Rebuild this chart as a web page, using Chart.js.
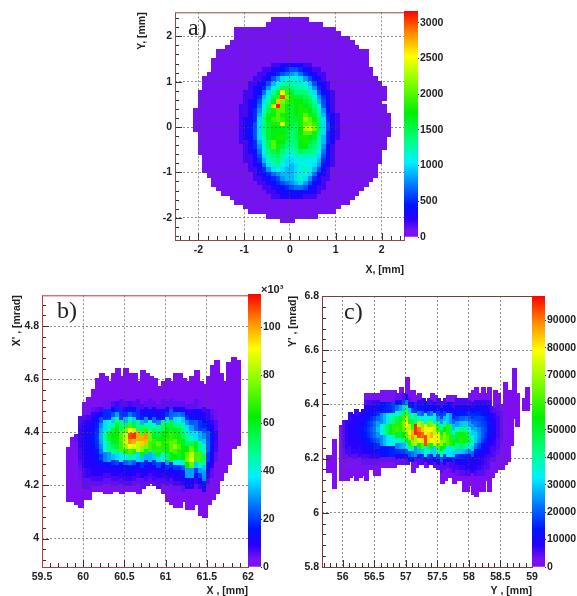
<!DOCTYPE html>
<html>
<head>
<meta charset="utf-8">
<script src="https://cdn.jsdelivr.net/npm/chart.js@4/dist/chart.umd.min.js"></script>
<style>
  html, body { margin: 0; padding: 0; background: #fff; }
  #page { position: relative; width: 577px; height: 596px; overflow: hidden; filter: blur(0.6px); background: #fff; }
  canvas { position: absolute; }
  .tag { position: absolute; font: 24px "Liberation Serif", serif; color: #222; }
  .exp { position: absolute; font: bold 11px "Liberation Sans", sans-serif; color: #222; }
</style>
</head>
<body>
<div id="page">
  <canvas id="mapA" width="288" height="273" style="left:136px;top:3px"></canvas>
  <canvas id="barA" width="60" height="242" style="left:404px;top:3px"></canvas>
  <canvas id="mapB" width="257" height="311" style="left:11px;top:286px"></canvas>
  <canvas id="barB" width="50" height="289" style="left:248px;top:286px"></canvas>
  <canvas id="mapC" width="265" height="311" style="left:287px;top:286px"></canvas>
  <canvas id="barC" width="45" height="287" style="left:532px;top:288px"></canvas>
  <div class="tag" style="left:188px;top:14px">a)</div>
  <div class="tag" style="left:57px;top:297px">b)</div>
  <div class="tag" style="left:344px;top:298px">c)</div>
  <div class="exp" style="left:261px;top:283px">×10³</div>
</div>
<script>
// Panel a: beam spot, cell size 0.1 mm, counts in hundreds
var aRowLeft = [-0.4,-0.5,-1.2,-1.2,-1.2,-1.3,-1.4,-1.6,-1.6,-1.7,-1.7,-1.7,-1.8,-1.9,-1.9,-1.9,-2.0,-2.0,-2.0,-2.0,-2.1,-2.1,-2.1,-2.1,-2.1,-2.0,-2.0,-2.0,-2.0,-2.0,-1.9,-1.9,-1.9,-1.9,-1.8,-1.7,-1.7,-1.6,-1.5,-1.3,-1.2,-1.0,-0.9,-0.5,-0.2];
var aRowRight = [0.3,0.6,0.9,1.0,1.2,1.3,1.4,1.6,1.6,1.6,1.6,1.7,1.7,1.8,1.9,2.0,2.0,2.0,1.9,2.0,2.0,2.1,2.1,2.1,2.1,2.1,2.0,2.0,2.0,1.9,1.9,1.9,1.8,1.8,1.8,1.7,1.6,1.5,1.4,1.3,1.2,1.0,0.9,0.5,0.0];
var aCore = [
  [1,1,1,1,1,1,1,1,2,2,3,3,3,3,3,2,2,1,1,1,1,1,1,1],
  [1,1,1,1,1,1,2,2,3,4,4,5,6,6,5,4,3,2,2,1,1,1,1,1],
  [1,1,1,1,1,2,2,3,4,5,6,7,8,9,7,5,4,3,2,2,1,1,1,1],
  [1,1,1,1,2,2,3,4,6,8,10,11,12,11,10,8,6,4,3,2,1,1,1,1],
  [1,1,1,2,2,3,4,6,9,11,12,13,12,12,12,11,9,6,4,3,2,1,1,1],
  [1,1,1,2,3,4,5,8,11,13,15,15,14,13,13,12,10,8,5,3,2,1,1,1],
  [1,1,2,2,3,4,7,10,13,16,25,19,16,14,14,14,12,10,6,4,3,2,1,1],
  [1,1,2,2,3,5,9,12,15,19,30,21,18,16,16,15,14,11,8,5,3,2,1,1],
  [1,1,2,3,4,6,10,13,17,27,21,19,18,17,17,16,15,13,9,6,3,2,1,1],
  [1,2,2,3,4,7,11,14,24,31,20,17,16,17,18,17,16,14,11,6,4,2,1,1],
  [1,2,2,3,5,8,12,15,18,20,20,18,16,17,18,18,17,15,12,8,4,2,1,1],
  [1,2,2,3,5,9,13,18,17,20,18,17,16,17,18,20,18,16,13,9,5,3,2,1],
  [1,2,3,3,5,10,14,17,19,20,19,17,16,16,18,22,20,18,14,10,5,3,2,1],
  [1,2,3,4,6,10,14,16,18,18,24,18,16,15,18,20,21,19,15,10,6,3,2,1],
  [1,2,3,4,6,10,14,16,17,17,17,16,15,15,17,23,24,21,15,10,6,3,2,1],
  [1,2,3,4,6,10,14,16,17,17,17,16,14,15,17,20,20,18,14,10,5,3,2,1],
  [1,2,3,4,6,10,13,16,17,18,18,16,14,15,18,18,17,16,13,9,5,3,2,1],
  [1,2,2,3,5,9,12,15,20,17,17,15,14,14,17,18,16,15,12,9,5,3,1,1],
  [1,1,2,3,5,8,12,15,20,18,16,14,13,14,17,17,15,14,12,8,4,2,1,1],
  [1,1,2,3,4,7,11,14,15,16,14,12,12,13,15,14,14,13,11,7,4,2,1,1],
  [1,1,2,2,4,6,10,13,14,15,13,11,11,12,12,12,12,12,10,6,4,2,1,1],
  [1,1,2,2,3,5,9,12,13,14,12,10,10,11,11,11,11,11,9,5,3,2,1,1],
  [1,1,1,2,3,4,7,10,12,13,11,10,9,10,12,11,11,10,8,4,3,2,1,1],
  [1,1,1,2,2,3,5,8,10,11,10,9,9,10,11,12,11,9,6,3,2,1,1,1],
  [1,1,1,1,2,3,4,5,7,8,9,9,9,10,11,11,10,7,4,3,2,1,1,1],
  [1,1,1,1,2,2,3,4,5,6,8,9,9,10,12,10,8,5,3,2,2,1,1,1],
  [1,1,1,1,1,2,2,3,4,5,6,7,8,9,10,8,6,4,3,2,1,1,1,1],
  [1,1,1,1,1,1,2,2,3,3,4,5,6,7,7,6,4,3,2,2,1,1,1,1],
  [1,1,1,1,1,1,1,2,2,3,3,4,4,4,4,4,3,3,2,1,1,1,1,1],
  [1,1,1,1,1,1,1,1,2,2,3,3,3,3,3,2,2,2,1,1,1,1,1,1]
];
var aXTicks = [-2,-1,0,1,2];
var aYTicks = [-2,-1,0,1,2];
var aBarTicks = [0,500,1000,1500,2000,2500,3000];

// Panel b: X-X' phase space, cells 0.05 mm x 0.02 mrad, counts in thousands
var bColTop = [4.35,4.38,4.38,4.46,4.52,4.53,4.55,4.59,4.61,4.61,4.59,4.61,4.64,4.61,4.64,4.61,4.62,4.59,4.63,4.61,4.61,4.60,4.58,4.58,4.59,4.58,4.61,4.61,4.59,4.59,4.62,4.62,4.59,4.59,4.61,4.65,4.66,4.62,4.59,4.65,4.67,4.67];
var bColBottom = [4.14,4.14,4.13,4.12,4.15,4.15,4.18,4.18,4.18,4.17,4.17,4.18,4.18,4.17,4.18,4.18,4.18,4.17,4.19,4.20,4.21,4.20,4.19,4.17,4.14,4.13,4.12,4.12,4.14,4.11,4.11,4.13,4.09,4.08,4.13,4.15,4.17,4.22,4.25,4.28,4.34,4.35];
var bCore = [
  [1,1,1,1,2,2,3,4,4,6,8,6,6,7,6,6,6,5,5,5,5,5,5,5,5,5,5,5,5,5,4,3,3,2,2,1],
  [1,2,3,4,5,6,7,10,10,14,18,12,11,15,12,11,10,10,9,9,9,9,10,11,12,12,11,10,9,8,8,7,6,5,3,1],
  [2,4,6,7,8,9,13,18,18,22,30,19,19,26,21,19,17,15,15,15,14,15,19,24,25,26,24,18,15,13,11,10,8,6,4,2],
  [3,6,8,9,11,15,22,28,30,34,48,32,32,46,34,32,32,28,26,25,27,30,36,38,36,38,34,28,22,17,15,13,11,8,5,2],
  [4,7,10,11,13,17,28,36,42,46,60,50,54,70,56,50,52,48,44,44,48,52,58,56,52,50,44,36,30,24,19,17,15,11,6,3],
  [4,8,11,12,14,18,31,42,52,58,64,62,76,92,84,76,72,68,58,52,56,60,62,62,60,56,50,44,36,31,27,22,19,14,8,3],
  [5,8,11,13,15,19,32,46,58,62,62,72,84,108,110,100,100,102,74,60,58,62,64,68,66,60,54,48,42,36,32,28,23,15,8,3],
  [5,8,11,13,15,19,31,44,54,60,60,76,86,102,98,100,96,98,76,68,74,70,68,70,72,66,60,52,54,46,40,34,24,15,8,3],
  [4,8,11,12,14,18,28,40,50,54,56,70,80,90,88,84,78,76,70,66,68,66,64,72,80,70,62,62,74,60,48,40,24,14,7,3],
  [4,7,10,11,13,16,25,34,42,46,50,58,66,70,66,62,60,56,54,54,58,58,60,66,70,66,62,72,84,72,58,44,23,12,6,3],
  [3,7,9,10,12,14,20,27,30,33,36,38,40,48,42,36,34,32,32,34,36,42,52,60,62,58,62,76,88,70,70,52,20,11,5,2],
  [3,6,9,10,11,12,15,19,19,19,21,24,24,27,23,19,19,18,18,19,21,23,30,36,40,38,44,62,74,56,62,48,16,9,3,2],
  [3,5,8,9,10,10,11,13,13,13,13,14,14,16,13,13,13,13,12,12,13,14,18,19,19,19,23,44,48,34,44,34,13,7,3,1],
  [3,4,7,8,9,9,9,9,10,9,9,11,11,11,10,10,10,10,9,9,10,11,12,13,13,13,15,30,30,20,30,30,11,5,2,1],
  [2,4,6,7,7,7,7,7,7,7,7,8,8,8,7,7,7,7,7,7,8,8,8,9,9,9,11,18,16,13,20,28,8,4,2,1],
  [2,3,5,5,5,5,5,5,5,5,5,6,6,6,5,5,5,5,5,5,6,6,6,6,7,7,8,12,10,8,13,16,6,3,1,1],
  [1,2,3,3,3,3,3,3,3,3,3,3,3,3,3,3,3,2,2,3,3,3,3,4,4,4,5,7,6,5,8,9,4,2,1,1]
];
var bXTicks = [59.5,60,60.5,61,61.5,62];
var bYTicks = [4,4.2,4.4,4.6,4.8];
var bBarTicks = [0,20,40,60,80,100];

// Panel c: Y-Y' phase space, cells 0.05 mm x 0.02 mrad, counts in thousands
var cColTop = [6.21,6.21,6.27,null,6.32,6.34,6.35,6.36,6.36,6.39,6.37,6.37,6.44,6.44,6.44,6.44,6.43,6.44,6.45,6.44,6.44,6.45,6.44,6.45,6.44,6.49,6.44,6.44,6.42,6.43,6.42,6.41,6.41,6.43,6.43,6.42,6.41,6.42,6.43,6.42,6.43,6.43,6.43,6.43,6.43,6.44,6.44,6.45,6.44,6.45,6.44,6.45,6.39,6.44,6.44,6.40,6.47,6.46,6.45,6.53,6.44,null,6.43,6.47];
var cColBottom = [6.15,6.15,6.09,null,6.12,6.12,6.12,6.13,6.14,6.12,6.13,6.14,6.12,6.16,6.16,6.14,6.14,6.17,6.17,6.17,6.17,6.17,6.18,6.18,6.18,6.18,6.19,6.15,6.17,6.18,6.18,6.17,6.18,6.18,6.17,6.16,6.11,6.12,6.13,6.13,6.11,6.12,6.12,6.08,6.08,6.10,6.07,6.06,6.08,6.08,6.12,6.08,6.13,6.15,6.16,6.16,6.18,6.19,6.25,6.35,6.32,null,6.38,6.38];
var cCore = [
  [1,1,1,1,1,1,1,1,3,3,3,3,3,3,3,3,3,3,4,4,5,14,5,3,3,3,3,3,3,3,3,3,3,3,3,3,3,3,3,3,3,3,3,3,3,3,3,3,2,2,1,1,1,1],
  [1,1,1,2,2,2,2,2,5,6,6,7,7,7,8,8,9,10,11,14,18,24,14,10,8,7,7,7,6,6,6,6,6,6,6,6,6,6,6,6,6,6,7,7,7,7,7,6,4,3,3,2,1,1],
  [2,2,3,4,4,4,4,5,8,9,10,11,12,13,14,15,16,18,22,26,30,42,30,18,16,14,14,13,11,11,11,12,13,12,11,11,10,10,10,10,10,10,11,11,11,10,10,9,6,5,4,3,2,1],
  [3,4,5,5,6,7,7,8,10,11,13,14,16,17,19,21,24,28,34,40,46,62,44,36,28,23,20,18,20,23,22,18,17,18,20,17,15,14,14,14,15,16,16,15,15,13,12,11,8,7,5,4,3,1],
  [3,5,6,7,8,8,9,10,12,14,16,18,21,24,28,32,38,42,46,52,60,72,58,46,44,36,32,34,36,38,32,25,25,28,30,25,20,18,20,20,22,20,20,18,18,17,15,13,9,8,6,4,3,2],
  [3,5,7,8,9,9,10,11,14,16,18,22,26,32,38,44,50,56,58,58,66,78,72,60,72,72,66,60,64,66,54,44,38,40,44,36,28,26,28,30,30,26,25,22,20,18,17,14,10,9,6,4,3,2],
  [3,5,7,8,9,10,11,12,15,17,20,23,28,34,40,46,52,58,60,58,62,72,78,86,96,90,84,76,80,78,72,60,50,54,58,46,38,38,42,44,40,34,30,27,24,20,18,14,10,9,6,4,3,2],
  [3,5,7,8,9,10,11,12,14,16,19,22,25,30,36,40,44,48,50,50,54,64,70,88,92,94,92,90,82,86,80,76,62,66,64,56,48,50,56,56,50,42,36,30,25,20,17,13,9,8,6,4,3,2],
  [3,5,7,8,8,9,10,11,13,14,16,18,21,24,28,32,34,36,36,38,42,52,58,68,70,76,82,94,82,78,76,80,68,66,62,58,52,52,58,56,52,46,38,30,24,18,15,11,8,7,5,4,3,2],
  [3,5,7,7,8,8,9,9,11,12,13,15,16,18,20,21,23,24,24,26,28,34,38,42,50,52,62,66,58,52,54,62,54,52,48,44,42,42,46,44,40,34,30,23,18,13,11,9,7,6,5,3,2,1],
  [3,4,6,6,7,7,7,8,8,9,10,11,12,13,13,14,15,15,16,17,17,20,20,22,25,28,30,36,34,30,30,40,40,36,32,32,30,30,30,28,26,23,20,15,12,10,9,8,6,5,4,3,2,1],
  [3,4,4,5,5,5,5,6,6,6,7,7,7,8,8,8,8,9,9,10,10,12,12,13,14,15,16,18,18,16,16,18,20,18,16,16,16,16,16,15,14,12,11,10,9,8,7,6,5,4,3,3,2,1],
  [2,3,3,3,3,3,3,4,4,4,4,4,4,4,4,4,4,4,4,4,4,5,5,5,5,5,6,7,7,7,9,9,9,9,9,9,9,9,10,10,10,10,10,9,8,7,6,5,4,3,3,2,1,1],
  [1,2,2,3,3,3,3,3,3,3,2,2,2,2,2,2,2,2,2,2,2,2,2,3,2,2,2,2,2,3,5,5,5,5,5,6,6,6,7,7,8,8,8,8,7,6,5,5,3,3,2,1,1,1],
  [1,1,1,1,1,1,1,1,1,1,1,1,1,1,1,1,1,1,1,1,1,1,1,1,1,1,1,1,1,1,1,3,3,3,3,4,4,4,5,5,6,6,6,6,5,5,4,3,2,2,1,1,1,1]
];
var cXTicks = [56,56.5,57,57.5,58,58.5,59];
var cYTicks = [5.8,6,6.2,6.4,6.6,6.8];
var cBarTicks = [0,10000,20000,30000,40000,50000,60000,70000,80000,90000];

var palette = [
  [0.00, 130, 10, 245], [0.03, 118, 20, 240], [0.08, 40, 0, 250], [0.14, 0, 20, 255], [0.22, 0, 110, 255],
  [0.33, 0, 240, 255], [0.42, 0, 255, 140], [0.55, 0, 240, 0], [0.70, 150, 255, 0],
  [0.80, 255, 255, 0], [0.90, 255, 140, 0], [1.00, 255, 0, 0]
];

function paletteColor(f) {
  f = Math.max(0, Math.min(1, f));
  for (var i = 1; i < palette.length; i++) {
    if (f <= palette[i][0]) {
      var p = palette[i - 1], q = palette[i];
      var t = (f - p[0]) / (q[0] - p[0]);
      return 'rgb(' + Math.round(p[1] + (q[1] - p[1]) * t) + ',' +
        Math.round(p[2] + (q[2] - p[2]) * t) + ',' + Math.round(p[3] + (q[3] - p[3]) * t) + ')';
    }
  }
  return 'rgb(255,0,0)';
}

function coreValue(core, row, col) {
  return (core[row] && core[row][col]) || 1;
}

function cellsFromRows() {
  var cells = [];
  aRowLeft.forEach(function (left, r) {
    var y = (23 - r) / 10;
    for (var i = Math.round(left * 10); i <= Math.round(aRowRight[r] * 10); i++) {
      var v = coreValue(aCore, Math.round((1.3 - y) * 10), i + 12);
      cells.push({ x: i / 10 + 0.05, y: y + 0.05, v: v });
    }
  });
  return cells;
}

function cellsFromColumns(tops, bottoms, core, x0, coreX0, coreTop) {
  var cells = [];
  tops.forEach(function (top, c) {
    if (top === null) return;
    var x = x0 + c * 0.05;
    var n = Math.round((top - bottoms[c]) / 0.02);
    for (var j = 0; j < n; j++) {
      var y = bottoms[c] + j * 0.02;
      var v = coreValue(core, Math.round((coreTop - y) / 0.02), Math.round((x - coreX0) / 0.05));
      cells.push({ x: x + 0.025, y: y + 0.01, v: v });
    }
  });
  return cells;
}

// scatter points drawn as small coloured tiles, sized from the scales
var tileCache = {};
function tile(color, w, h) {
  var key = color + w + 'x' + h;
  if (!tileCache[key]) {
    var c = document.createElement('canvas');
    c.width = w; c.height = h;
    var g = c.getContext('2d');
    g.fillStyle = color;
    g.fillRect(0, 0, w, h);
    tileCache[key] = c;
  }
  return tileCache[key];
}

// ROOT style frame and inward ticks
var framePlugin = {
  id: 'frame',
  afterDraw: function (chart, args, opts) {
    var a = chart.chartArea, ctx = chart.ctx;
    var sx = chart.scales.x, sy = chart.scales.y;
    ctx.save();
    ctx.strokeStyle = '#333';
    ctx.lineWidth = 1;
    ctx.beginPath();
    var v, k;
    for (k = Math.ceil(sx.min / opts.xMinor); k * opts.xMinor <= sx.max; k++) {
      v = k * opts.xMinor;
      var major = k % opts.xEvery === 0;
      var px = Math.round(sx.getPixelForValue(v)) + 0.5;
      ctx.moveTo(px, a.bottom);
      ctx.lineTo(px, a.bottom - (major ? 7 : 4));
    }
    for (k = Math.ceil(sy.min / opts.yMinor); k * opts.yMinor <= sy.max; k++) {
      v = k * opts.yMinor;
      var py = Math.round(sy.getPixelForValue(v)) + 0.5;
      ctx.moveTo(a.left, py);
      ctx.lineTo(a.left + (k % opts.yEvery === 0 ? 7 : 4), py);
    }
    ctx.stroke();
    ctx.strokeStyle = opts.color;
    ctx.strokeRect(a.left + 0.5, a.top + 0.5, a.right - a.left, a.bottom - a.top);
    ctx.restore();
  }
};

function axisFont() {
  return { family: '"Liberation Sans", sans-serif', size: 10.5, weight: 'bold' };
}

function makeMap(id, p) {
  return new Chart(document.getElementById(id), {
    type: 'scatter',
    data: { datasets: [{ label: p.name, data: p.cells }] },
    plugins: [framePlugin],
    options: {
      responsive: false,
      animation: false,
      layout: { padding: { top: p.padTop, right: p.padRight, left: 0, bottom: 0 } },
      elements: {
        point: {
          radius: 1,
          hoverRadius: 1,
          pointStyle: function (ctx) {
            if (!ctx.raw) return 'rect';
            var sx = ctx.chart.scales.x, sy = ctx.chart.scales.y;
            var w = Math.ceil(Math.abs(sx.getPixelForValue(p.dx) - sx.getPixelForValue(0))) + 1;
            var h = Math.ceil(Math.abs(sy.getPixelForValue(p.dy) - sy.getPixelForValue(0))) + 1;
            return tile(paletteColor(ctx.raw.v / p.colorMax), Math.max(w, 1), Math.max(h, 1));
          }
        }
      },
      plugins: {
        legend: { display: false },
        tooltip: { enabled: false },
        frame: p.frame
      },
      scales: {
        x: {
          type: 'linear', min: p.xMin, max: p.xMax,
          afterBuildTicks: function (s) { s.ticks = p.xTicks.map(function (v) { return { value: v }; }); },
          afterFit: function (s) { s.height = p.axisH; },
          grid: { z: 1, color: 'rgba(70,70,70,0.6)', drawTicks: false },
          border: { display: false, dash: [2, 2] },
          ticks: { color: '#222', font: axisFont(), padding: 4, maxRotation: 0, autoSkip: false,
            callback: function (v) { return String(v); } },
          title: { display: true, text: p.xTitle, align: 'end', color: '#222', font: axisFont(), padding: 0 }
        },
        y: {
          type: 'linear', min: p.yMin, max: p.yMax,
          afterBuildTicks: function (s) { s.ticks = p.yTicks.map(function (v) { return { value: v }; }); },
          afterFit: function (s) { s.width = p.axisW; },
          grid: { z: 1, color: 'rgba(70,70,70,0.6)', drawTicks: false },
          border: { display: false, dash: [2, 2] },
          ticks: { color: '#222', font: axisFont(), padding: 3, autoSkip: false,
            callback: function (v) { return String(v); } },
          title: { display: true, text: p.yTitle, align: 'end', color: '#222', font: axisFont(), padding: 0 }
        }
      }
    }
  });
}

function makeBar(id, max, ticks, stripW) {
  return new Chart(document.getElementById(id), {
    type: 'bar',
    data: {
      labels: ['scale'],
      datasets: [{
        data: [[0, max]],
        barPercentage: 1,
        categoryPercentage: 1,
        backgroundColor: function (ctx) {
          var area = ctx.chart.chartArea;
          if (!area) return '#800ff0';
          var g = ctx.chart.ctx.createLinearGradient(0, area.bottom, 0, area.top);
          palette.forEach(function (s) {
            g.addColorStop(s[0], 'rgb(' + s[1] + ',' + s[2] + ',' + s[3] + ')');
          });
          return g;
        }
      }]
    },
    options: {
      responsive: false,
      animation: false,
      layout: { padding: { top: 8, bottom: 8 } },
      plugins: { legend: { display: false }, tooltip: { enabled: false } },
      scales: {
        x: { display: false },
        y: {
          position: 'right', min: 0, max: max,
          afterBuildTicks: function (s) { s.ticks = ticks.map(function (v) { return { value: v }; }); },
          afterFit: function (s) { s.width = document.getElementById(id).width - stripW; },
          grid: { drawOnChartArea: false, drawTicks: true, tickLength: 1, color: '#333' },
          border: { display: false },
          ticks: { color: '#222', font: axisFont(), padding: 1, autoSkip: false,
            callback: function (v) { return String(v); } }
        }
      }
    }
  });
}

makeMap('mapA', {
  name: 'a', cells: cellsFromRows(), dx: 0.1, dy: 0.1, colorMax: 31.65,
  xMin: -2.51, xMax: 2.49, yMin: -2.49, yMax: 2.53,
  xTicks: aXTicks, yTicks: aYTicks, xTitle: 'X, [mm]', yTitle: 'Y, [mm]',
  padTop: 8, padRight: 20, axisH: 36, axisW: 39,
  frame: { xMinor: 0.2, xEvery: 5, yMinor: 0.2, yEvery: 5, color: '#8a4a4a' }
});
makeBar('barA', 3165, aBarTicks, 14);

makeMap('mapB', {
  name: 'b', cells: cellsFromColumns(bColTop, bColBottom, bCore, 59.8, 59.9, 4.50), dx: 0.05, dy: 0.02, colorMax: 114,
  xMin: 59.5, xMax: 62, yMin: 3.893, yMax: 4.916,
  xTicks: bXTicks, yTicks: bYTicks, xTitle: 'X , [mm]', yTitle: "X' , [mrad]",
  padTop: 8, padRight: 20, axisH: 30, axisW: 31,
  frame: { xMinor: 0.1, xEvery: 5, yMinor: 0.04, yEvery: 5, color: '#b83a3a' }
});
makeBar('barB', 114, bBarTicks, 13);

makeMap('mapC', {
  name: 'c', cells: cellsFromColumns(cColTop, cColBottom, cCore, 55.75, 55.95, 6.42), dx: 0.05, dy: 0.02, colorMax: 98.9,
  xMin: 55.672, xMax: 59, yMin: 5.8, yMax: 6.8,
  xTicks: cXTicks, yTicks: cYTicks, xTitle: 'Y , [mm]', yTitle: "Y' , [mrad]",
  padTop: 10, padRight: 20, axisH: 30, axisW: 35,
  frame: { xMinor: 0.1, xEvery: 5, yMinor: 0.04, yEvery: 5, color: '#803a3a' }
});
makeBar('barC', 98900, cBarTicks, 13);
</script>
</body>
</html>
